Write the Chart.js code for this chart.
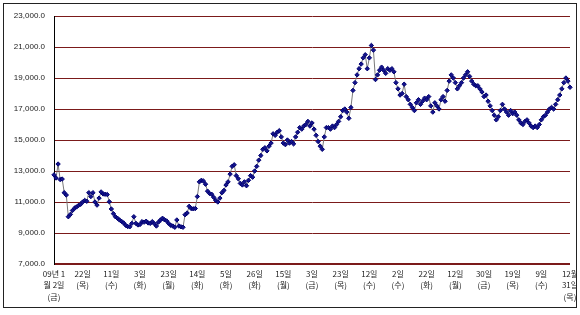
<!DOCTYPE html>
<html>
<head>
<meta charset="utf-8">
<script src="https://cdn.jsdelivr.net/npm/chart.js@4.4.0/dist/chart.umd.min.js"></script>
<style>
  body { margin: 0; background: #fff; }
  #box { position: absolute; left: 3px; top: 3px; width: 572px; height: 303px; border: 1px solid #222; }
</style>
</head>
<body>
<div id="box"><canvas id="myChart" width="572" height="303"></canvas></div>
<script>
// tick labels, one every 14 trading days
const tickLabels = [
  ['09년 1', '월 2일', '(금)'], ['22일', '(목)'], ['11일', '(수)'], ['3일', '(화)'],
  ['23일', '(월)'], ['14일', '(화)'], ['5일', '(화)'], ['26일', '(화)'],
  ['15일', '(월)'], ['3일', '(금)'], ['23일', '(목)'], ['12일', '(수)'],
  ['2일', '(수)'], ['22일', '(화)'], ['12일', '(월)'], ['30일', '(금)'],
  ['19일', '(목)'], ['9일', '(수)'], ['12월', '31일', '(목)']
];
const tickStep = 14;

// daily values
const values = [
  12750, 12550, 13450, 12450, 12480, 11600, 11450, 10050, 10200, 10450, 10600, 10680, 10780, 10850,
  11000, 11100, 11050, 11600, 11350, 11600, 11000, 10800, 11250, 11650, 11520, 11500, 11480, 11020,
  10550, 10250, 10050, 9950, 9840, 9750, 9650, 9500, 9420, 9400, 9620, 10050, 9620, 9520,
  9550, 9730, 9700, 9760, 9650, 9620, 9730, 9600, 9450, 9700, 9840, 9950, 9850, 9780,
  9620, 9500, 9450, 9370, 9840, 9450, 9400, 9370, 10180, 10290, 10720, 10580, 10560, 10580,
  11350, 12300, 12400, 12350, 12150, 11700, 11550, 11500, 11300, 11100, 11000, 11250, 11600, 11750,
  12100, 12300, 12800, 13300, 13400, 12700, 12500, 12200, 12100, 12300, 12050, 12400, 12700, 12600,
  13000, 13300, 13700, 14000, 14400, 14500, 14300, 14600, 14800, 15400, 15300, 15500, 15600, 15200,
  14800, 14700, 15000, 14800, 14900, 14750, 15200, 15500, 15800, 15700, 15900, 16000, 16200, 15900,
  16100, 15700, 15300, 14900, 14600, 14400, 15200, 15800, 15800, 15700, 15900, 15800, 16000, 16200,
  16500, 16900, 17000, 16800, 16400, 17100, 18200, 18700, 19200, 19600, 19900, 20300, 20500, 19600,
  20300, 21100, 20800, 18900, 19200, 19500, 19700, 19500, 19300, 19600, 19500, 19600, 19400, 18700,
  18300, 17900, 18000, 18600, 17800, 17600, 17300, 17100, 16900, 17400, 17600, 17300, 17500, 17700,
  17600, 17800, 17200, 16800, 17400, 17200, 17000, 17600, 17800, 17500, 18200, 18800, 19200, 19000,
  18700, 18300, 18500, 18700, 19000, 19200, 19400, 19100, 18800, 18600, 18500, 18500, 18300, 18100,
  17800, 17900, 17500, 17200, 16900, 16600, 16300, 16500, 16900, 17300, 17000, 16800, 16600, 16900,
  16700, 16800, 16600, 16300, 16100, 16000, 16200, 16300, 16100, 15900, 15800, 15900, 15800, 16000,
  16300, 16500, 16600, 16800, 17000, 17100, 17000, 17300, 17600, 17900, 18300, 18700, 19000, 18800, 18400
];

const yMin = 7000, yMax = 23000, yStep = 2000;

const labels = values.map((v, i) => (i % tickStep === 0 ? tickLabels[i / tickStep] : ''));

const config = {
  type: 'line',
  data: {
    labels: labels,
    datasets: [{
      data: values,
      borderColor: '#7a7a7a',
      borderWidth: 1,
      pointStyle: 'rectRot',
      pointRadius: 2.2,
      pointBackgroundColor: '#14148c',
      pointBorderColor: '#000070',
      pointBorderWidth: 1,
      tension: 0
    }]
  },
  options: {
    responsive: false,
    animation: false,
    layout: { padding: { top: 12, right: 6, left: 0, bottom: 0 } },
    plugins: { legend: { display: false }, tooltip: { enabled: false } },
    scales: {
      x: {
        grid: { display: false, drawTicks: false },
        border: { display: false },
        ticks: {
          autoSkip: false, maxRotation: 0, minRotation: 0, padding: 4,
          color: '#222',
          font: { family: '"Noto Sans CJK KR"', size: 8, lineHeight: 1.45 }
        },
        afterFit: s => { s.height = 43; s.paddingLeft = 0; s.paddingRight = 0; }
      },
      y: {
        min: yMin, max: yMax,
        grid: {
          color: '#7b1a1a',
          lineWidth: c => (c.tick && c.tick.value === yMin ? 2 : 1),
          drawTicks: false
        },
        border: { display: true, color: '#000', width: 1 },
        ticks: {
          stepSize: yStep, padding: 9, color: '#222',
          font: { family: '"Liberation Sans"', size: 8 },
          callback: v => v.toLocaleString('en-US', { minimumFractionDigits: 1, maximumFractionDigits: 1 })
        },
        afterFit: s => { s.width = 50; s.paddingTop = 0; s.paddingBottom = 0; }
      }
    }
  }
};

new Chart(document.getElementById('myChart'), config);
</script>
</body>
</html>
